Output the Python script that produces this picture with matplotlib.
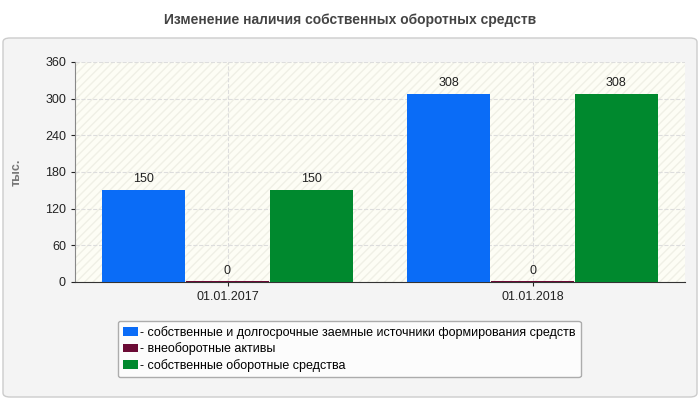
import matplotlib
matplotlib.use("Agg")
import matplotlib.pyplot as plt
from matplotlib.patches import FancyBboxPatch, Rectangle

plt.rcParams['font.family'] = ['Liberation Sans', 'DejaVu Sans']

categories = ["01.01.2017", "01.01.2018"]
series_names = ["- собственные и долгосрочные заемные источники формирования средств",
                "- внеоборотные активы",
                "- собственные оборотные средства"]
values = [[150, 308], [0, 0], [150, 308]]
colors = ["#0a6cf7", "#6b0a35", "#00892e"]
yticks = [0, 60, 120, 180, 240, 300, 360]

fig = plt.figure(figsize=(7, 4), dpi=100)
fig.patch.set_facecolor("white")
panel = FancyBboxPatch((3/700, 3/400), 694/700, 359/400, boxstyle="round,pad=0,rounding_size=0.01",
                       transform=fig.transFigure, facecolor="#f4f4f4", edgecolor="#cccccc", lw=1,
                       zorder=-10)
fig.patches.append(panel)
fig.text(0.5, 380/400, "Изменение наличия собственных оборотных средств", ha="center", va="center",
         fontsize=10, fontweight="bold", color="#444444")

ax = fig.add_axes([75/700, 118/400, 610/700, 220/400])
ax.set_facecolor("#fdfdf5")
ax.add_patch(Rectangle((0, 0), 1, 1, transform=ax.transAxes, facecolor="none",
                       hatch="////", edgecolor="#f0f0e6", lw=0, zorder=0))
offsets = [-0.275, 0, 0.275]
w = 0.27
for i, (name, vals, c) in enumerate(zip(series_names, values, colors)):
    xs = [k + offsets[i] for k in range(len(categories))]
    ax.bar(xs, [max(v, 1.5) for v in vals], width=w, color=c, label=name, zorder=3)
    for x, v in zip(xs, vals):
        ax.text(x, v + 8, str(v), ha="center", va="bottom", fontsize=9, color="#222222", zorder=4)
ax.set_xlim(-0.5, 1.5)
ax.set_ylim(0, 360)
ax.set_yticks(yticks)
ax.set_xticks(range(len(categories)))
ax.set_xticklabels(categories)
ax.tick_params(labelsize=9, colors="#222222", length=3)
ax.grid(True, color="#dddddd", ls="--", lw=0.8, zorder=1)
for s in ["top", "right"]:
    ax.spines[s].set_visible(False)
ax.spines["left"].set_color("#888888")
ax.spines["bottom"].set_color("#333333")
ax.set_ylabel("тыс.", fontsize=9, color="#777777", fontweight="bold", labelpad=16)

leg = fig.legend(loc="center", bbox_to_anchor=(349/700, 51/400), fontsize=9, frameon=True,
                 handlelength=1.2, handleheight=0.7, handletextpad=0.2, labelspacing=0.3,
                 fancybox=True, edgecolor="#999999")
leg.get_frame().set_facecolor("white")
fig.savefig("out.png", dpi=100)
